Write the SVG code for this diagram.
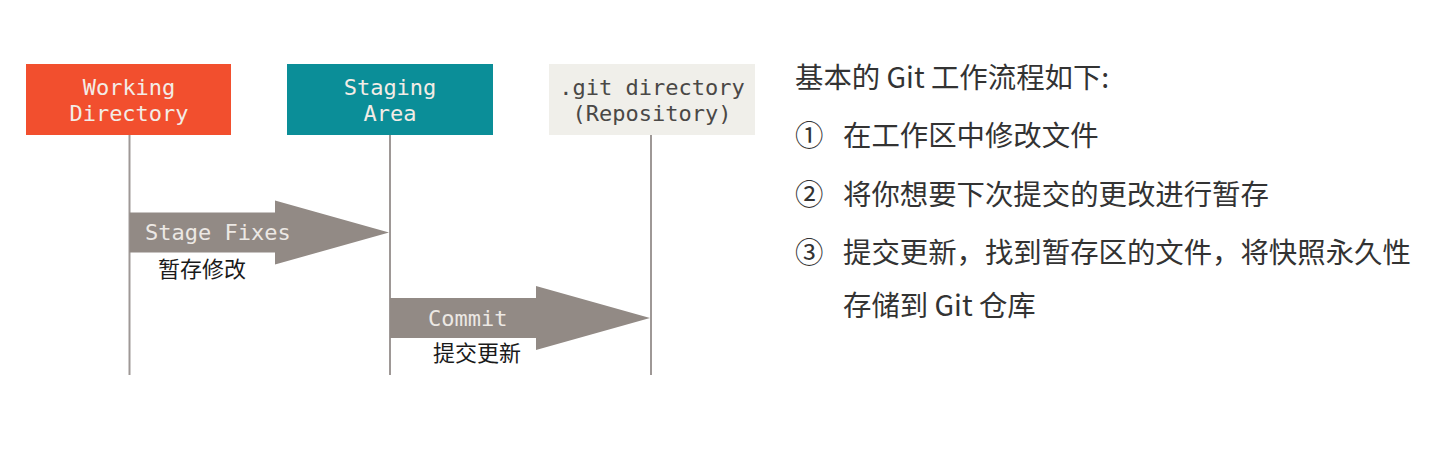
<svg xmlns="http://www.w3.org/2000/svg" width="1439" height="460" viewBox="0 0 1439 460">
  <style>
    .box-label { font-family: "DejaVu Sans Mono", "Liberation Mono", monospace; font-size: 22px; text-anchor: middle; }
    .light { fill: #F3ECE6; }
    .dark { fill: #4A4846; }
    .lifeline { stroke: #9E9896; stroke-width: 2; fill: none; }
    .arrow { fill: #928A85; }
    .arrow-label { font-family: "DejaVu Sans Mono", "Liberation Mono", monospace; font-size: 22px; fill: #ECE8E4; }
    .cn-label { font-family: "Noto Sans CJK SC", "Noto Sans", sans-serif; font-size: 22px; fill: #1A1A1A; }
    .notes { font-family: "Noto Sans CJK SC", "Noto Sans", sans-serif; font-size: 28.4px; fill: #333; }
  </style>
  <rect width="1439" height="460" fill="#FFFFFF"/>

  <g id="connectors">
    <line class="lifeline" x1="129.5" y1="134" x2="129.5" y2="375"/>
    <line class="lifeline" x1="390" y1="134" x2="390" y2="375"/>
    <line class="lifeline" x1="651" y1="134" x2="651" y2="375"/>
    <g id="stage-fixes">
      <polygon class="arrow" points="129.5,212.5 275,212.5 275,200.5 389,232.5 275,264.5 275,252.5 129.5,252.5"/>
      <text class="arrow-label" x="145" y="240">Stage Fixes</text>
      <text class="cn-label" x="158" y="277">暂存修改</text>
    </g>
    <g id="commit">
      <polygon class="arrow" points="390,298 536,298 536,286 650,318 536,350 536,338 390,338"/>
      <text class="arrow-label" x="428" y="326">Commit</text>
      <text class="cn-label" x="433" y="361">提交更新</text>
    </g>
  </g>

  <g id="working-directory">
    <rect x="26" y="64" width="205" height="71" fill="#F24F2E"/>
    <text class="box-label light" x="129" y="95">Working</text>
    <text class="box-label light" x="129" y="121">Directory</text>
  </g>

  <g id="staging-area">
    <rect x="287" y="64" width="206" height="71" fill="#0B8E98"/>
    <text class="box-label light" x="390" y="95">Staging</text>
    <text class="box-label light" x="390" y="121">Area</text>
  </g>

  <g id="git-directory">
    <rect x="549" y="64" width="206" height="71" fill="#F0EFEA"/>
    <text class="box-label dark" x="652" y="95">.git directory</text>
    <text class="box-label dark" x="652" y="121">(Repository)</text>
  </g>

  <g id="notes">
    <text class="notes" x="795" y="88">基本的 Git 工作流程如下:</text>
    <text class="notes" x="795" y="146">①</text>
    <text class="notes" x="843" y="146">在工作区中修改文件</text>
    <text class="notes" x="795" y="205">②</text>
    <text class="notes" x="843" y="205">将你想要下次提交的更改进行暂存</text>
    <text class="notes" x="795" y="263">③</text>
    <text class="notes" x="843" y="263">提交更新，找到暂存区的文件，将快照永久性</text>
    <text class="notes" x="843" y="316">存储到 Git 仓库</text>
  </g>
</svg>
